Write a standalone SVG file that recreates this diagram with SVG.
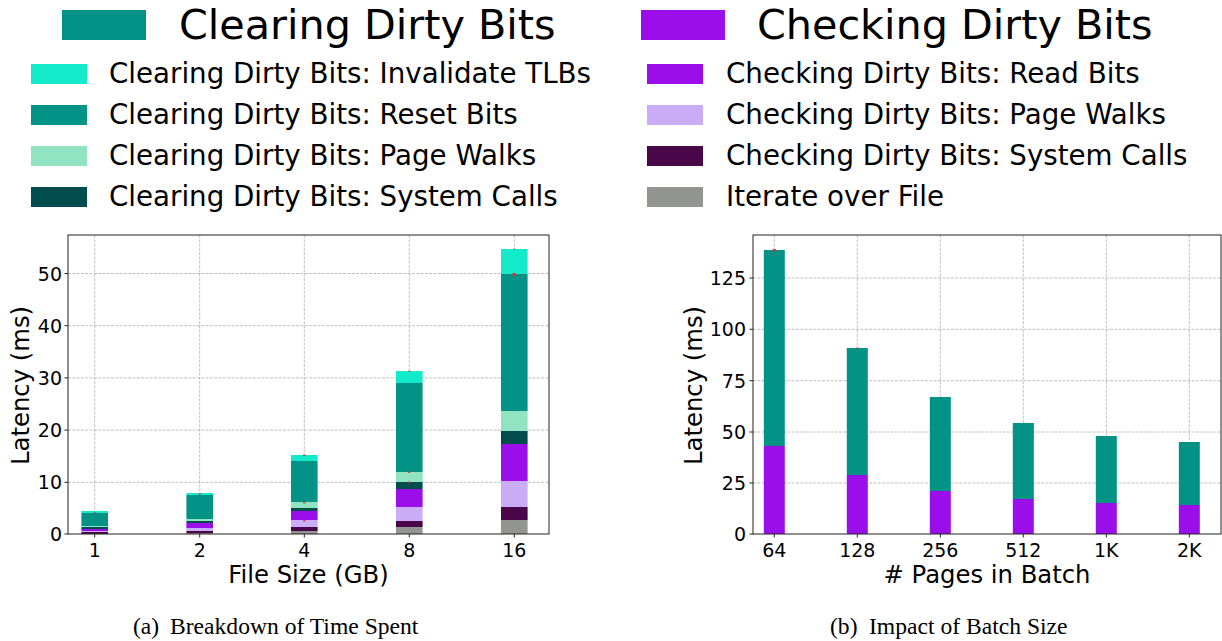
<svg xmlns="http://www.w3.org/2000/svg" width="1222" height="641" viewBox="0 0 1222 641">
<style>
text{font-family:"DejaVu Sans",sans-serif;fill:#000}
.ty{font-size:19px;text-anchor:end}
.tx{font-size:19px;text-anchor:middle}
.al{font-size:24.3px;text-anchor:middle}
.lt{font-size:41.3px}
.lr{font-size:27.7px}
.cap{font-family:"Liberation Serif",serif;font-size:23.6px}
.grid{stroke:#b0b0b0;stroke-width:0.8;stroke-dasharray:3,1.3;fill:none}
.frame{fill:none;stroke:#222;stroke-width:1}
.tick{stroke:#222;stroke-width:1}
.cy{fill:#13eac9}.te{fill:#029386}.lg{fill:#90e4c1}.dt{fill:#014d4e}
.pu{fill:#9a0eea}.lp{fill:#cbacf6}.dp{fill:#490648}.gr{fill:#929591}
.err{fill:#e8282d}
</style>
<rect width="1222" height="641" fill="#fff"/>

<g id="legend-left">
<rect class="te" x="62" y="10" width="84" height="30"/>
<text class="lt" x="179" y="39">Clearing Dirty Bits</text>
<rect class="cy" x="31" y="64" width="56" height="20"/>
<text class="lr" x="109" y="83">Clearing Dirty Bits: Invalidate TLBs</text>
<rect class="te" x="31" y="105" width="56" height="20"/>
<text class="lr" x="109" y="124">Clearing Dirty Bits: Reset Bits</text>
<rect class="lg" x="31" y="146" width="56" height="20"/>
<text class="lr" x="109" y="165">Clearing Dirty Bits: Page Walks</text>
<rect class="dt" x="31" y="187" width="56" height="20"/>
<text class="lr" x="109" y="206">Clearing Dirty Bits: System Calls</text>
</g>

<g id="legend-right">
<rect class="pu" x="641" y="10" width="84" height="30"/>
<text class="lt" x="757" y="39">Checking Dirty Bits</text>
<rect class="pu" x="647" y="64" width="56" height="20"/>
<text class="lr" x="726" y="83">Checking Dirty Bits: Read Bits</text>
<rect class="lp" x="647" y="105" width="56" height="20"/>
<text class="lr" x="726" y="124">Checking Dirty Bits: Page Walks</text>
<rect class="dp" x="647" y="146" width="56" height="20"/>
<text class="lr" x="726" y="165">Checking Dirty Bits: System Calls</text>
<rect class="gr" x="647" y="187" width="56" height="20"/>
<text class="lr" x="726" y="206">Iterate over File</text>
</g>

<g id="chart-a">
<g class="grid">
<path d="M68 482.3H549M68 430.1H549M68 377.9H549M68 325.7H549M68 273.5H549"/>
<path d="M94.7 235V534M199.7 235V534M304.3 235V534M409.3 235V534M514.3 235V534"/>
</g>
<g id="bar-a1">
<rect class="dp" x="81.4" y="532" width="26.6" height="2"/>
<rect class="lp" x="81.4" y="531" width="26.6" height="1"/>
<rect class="pu" x="81.4" y="529" width="26.6" height="2"/>
<rect class="dt" x="81.4" y="527" width="26.6" height="2"/>
<rect class="lg" x="81.4" y="526" width="26.6" height="1"/>
<rect class="te" x="81.4" y="513" width="26.6" height="13"/>
<rect class="cy" x="81.4" y="511" width="26.6" height="2"/>
</g>
<g id="bar-a2">
<rect class="gr" x="186.4" y="533" width="26.6" height="1"/>
<rect class="dp" x="186.4" y="531" width="26.6" height="2"/>
<rect class="lp" x="186.4" y="528" width="26.6" height="3"/>
<rect class="pu" x="186.4" y="523" width="26.6" height="5"/>
<rect class="dt" x="186.4" y="521" width="26.6" height="2"/>
<rect class="lg" x="186.4" y="519" width="26.6" height="2"/>
<rect class="te" x="186.4" y="495" width="26.6" height="24"/>
<rect class="cy" x="186.4" y="493" width="26.6" height="2"/>
</g>
<g id="bar-a4">
<rect class="gr" x="291" y="531" width="26.6" height="3"/>
<rect class="dp" x="291" y="527" width="26.6" height="4"/>
<rect class="lp" x="291" y="520" width="26.6" height="7"/>
<rect class="pu" x="291" y="511" width="26.6" height="9"/>
<rect class="dt" x="291" y="508" width="26.6" height="3"/>
<rect class="lg" x="291" y="502" width="26.6" height="6"/>
<rect class="te" x="291" y="461" width="26.6" height="41"/>
<rect class="cy" x="291" y="455" width="26.6" height="6"/>
</g>
<g id="bar-a8">
<rect class="gr" x="396" y="527" width="26.6" height="7"/>
<rect class="dp" x="396" y="521" width="26.6" height="6"/>
<rect class="lp" x="396" y="507" width="26.6" height="14"/>
<rect class="pu" x="396" y="489" width="26.6" height="18"/>
<rect class="dt" x="396" y="482" width="26.6" height="7"/>
<rect class="lg" x="396" y="472" width="26.6" height="10"/>
<rect class="te" x="396" y="383" width="26.6" height="89"/>
<rect class="cy" x="396" y="371" width="26.6" height="12"/>
</g>
<g id="bar-a16">
<rect class="gr" x="501" y="520" width="26.6" height="14"/>
<rect class="dp" x="501" y="507" width="26.6" height="13"/>
<rect class="lp" x="501" y="481" width="26.6" height="26"/>
<rect class="pu" x="501" y="444" width="26.6" height="37"/>
<rect class="dt" x="501" y="431" width="26.6" height="13"/>
<rect class="lg" x="501" y="411" width="26.6" height="20"/>
<rect class="te" x="501" y="274" width="26.6" height="137"/>
<rect class="cy" x="501" y="249" width="26.6" height="25"/>
</g>
<g id="err-a">
<rect class="err" x="93.5" y="512" width="2.4" height="1.5" opacity="0.6"/>
<rect class="err" x="198.5" y="493" width="2.4" height="1.5" opacity="0.7"/>
<rect class="err" x="303.1" y="454.5" width="2.4" height="1.5" opacity="0.8"/>
<rect class="err" x="303.1" y="502" width="2.4" height="1.5" opacity="0.8"/>
<rect class="err" x="303.1" y="520" width="2.4" height="1.5" opacity="0.8"/>
<rect class="err" x="408.1" y="471.5" width="2.4" height="1.5" opacity="0.8"/>
<rect class="err" x="408.1" y="481.5" width="2.4" height="1.5" opacity="0.8"/>
<rect class="err" x="408.1" y="370.5" width="2.4" height="1.5" opacity="0.5"/>
<rect class="err" x="512.6" y="273" width="3.2" height="3"/>
<rect class="err" x="513.1" y="248.5" width="2.4" height="1" opacity="0.5"/>
</g>
<rect class="frame" x="68" y="235" width="481" height="299"/>
<g class="tick">
<path d="M64.5 534H68M64.5 482.3H68M64.5 430.1H68M64.5 377.9H68M64.5 325.7H68M64.5 273.5H68"/>
<path d="M94.7 534V537.5M199.7 534V537.5M304.3 534V537.5M409.3 534V537.5M514.3 534V537.5"/>
</g>
<text class="ty" x="62" y="541">0</text>
<text class="ty" x="62" y="489.3">10</text>
<text class="ty" x="62" y="437.1">20</text>
<text class="ty" x="62" y="384.9">30</text>
<text class="ty" x="62" y="332.7">40</text>
<text class="ty" x="62" y="280.5">50</text>
<text class="tx" x="94.7" y="557">1</text>
<text class="tx" x="199.7" y="557">2</text>
<text class="tx" x="304.3" y="557">4</text>
<text class="tx" x="409.3" y="557">8</text>
<text class="tx" x="514.3" y="557">16</text>
<text class="al" x="308.5" y="583">File Size (GB)</text>
<text class="al" transform="translate(29 385.5) rotate(-90)">Latency (ms)</text>
<text class="cap" x="133" y="634">(a)</text>
<text class="cap" x="170" y="634">Breakdown of Time Spent</text>
</g>

<g id="chart-b">
<g class="grid">
<path d="M753 483H1221M753 432H1221M753 380.7H1221M753 329.3H1221M753 278H1221"/>
<path d="M774.3 235V534M857.3 235V534M940.3 235V534M1023.3 235V534M1106.3 235V534M1189.3 235V534"/>
</g>
<g id="bar-b64"><rect class="pu" x="763.8" y="446" width="21" height="88"/><rect class="te" x="763.8" y="250" width="21" height="196"/></g>
<g id="bar-b128"><rect class="pu" x="846.8" y="475" width="21" height="59"/><rect class="te" x="846.8" y="348" width="21" height="127"/></g>
<g id="bar-b256"><rect class="pu" x="929.8" y="491" width="21" height="43"/><rect class="te" x="929.8" y="397" width="21" height="94"/></g>
<g id="bar-b512"><rect class="pu" x="1012.8" y="499" width="21" height="35"/><rect class="te" x="1012.8" y="423" width="21" height="76"/></g>
<g id="bar-b1k"><rect class="pu" x="1095.8" y="503" width="21" height="31"/><rect class="te" x="1095.8" y="436" width="21" height="67"/></g>
<g id="bar-b2k"><rect class="pu" x="1178.8" y="505" width="21" height="29"/><rect class="te" x="1178.8" y="442" width="21" height="63"/></g>
<g id="err-b">
<rect class="err" x="772.8" y="249" width="3" height="2.5"/>
<rect class="err" x="773.1" y="445.5" width="2.4" height="1" opacity="0.6"/>
<rect class="err" x="856.1" y="347.5" width="2.4" height="1.5" opacity="0.7"/>
</g>
<rect class="frame" x="753" y="235" width="468" height="299"/>
<g class="tick">
<path d="M749.5 534H753M749.5 483H753M749.5 432H753M749.5 380.7H753M749.5 329.3H753M749.5 278H753"/>
<path d="M774.3 534V537.5M857.3 534V537.5M940.3 534V537.5M1023.3 534V537.5M1106.3 534V537.5M1189.3 534V537.5"/>
</g>
<text class="ty" x="746" y="541">0</text>
<text class="ty" x="746" y="490">25</text>
<text class="ty" x="746" y="439">50</text>
<text class="ty" x="746" y="387.7">75</text>
<text class="ty" x="746" y="336.3">100</text>
<text class="ty" x="746" y="285">125</text>
<text class="tx" x="774.3" y="557">64</text>
<text class="tx" x="857.3" y="557">128</text>
<text class="tx" x="940.3" y="557">256</text>
<text class="tx" x="1023.3" y="557">512</text>
<text class="tx" x="1106.3" y="557">1K</text>
<text class="tx" x="1189.3" y="557">2K</text>
<text class="al" x="987" y="583"># Pages in Batch</text>
<text class="al" transform="translate(701.5 385.5) rotate(-90)">Latency (ms)</text>
<text class="cap" x="830" y="634">(b)</text>
<text class="cap" x="869" y="634">Impact of Batch Size</text>
</g>
</svg>
